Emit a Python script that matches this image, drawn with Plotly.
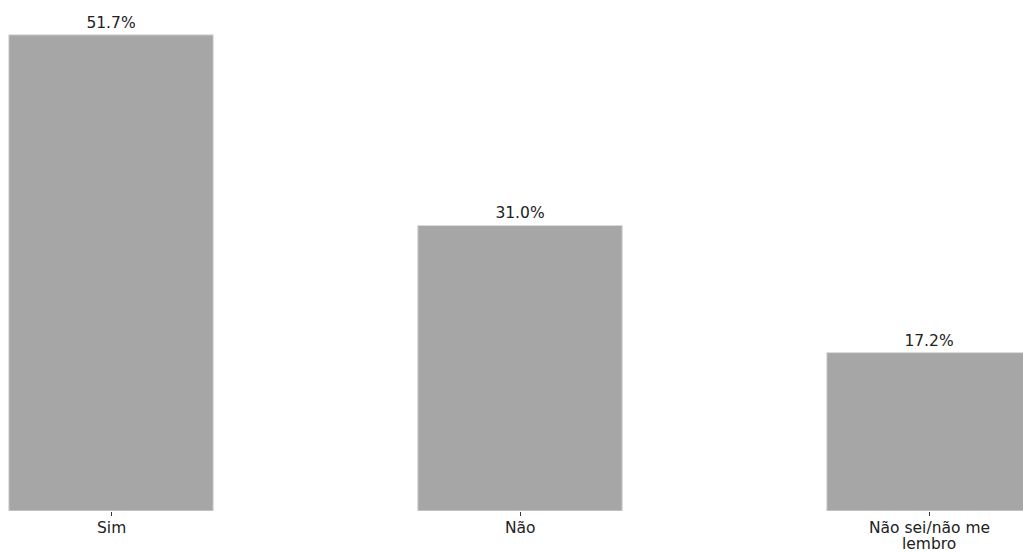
import plotly.graph_objects as go

categories = ["Sim", "Não", "Não sei/não me<br>lembro"]
values = [51.7, 31.0, 17.2]
labels = ["51.7%", "31.0%", "17.2%"]

FONT = "DejaVu Sans"
fig = go.Figure(go.Bar(
    x=list(range(len(categories))),
    y=values,
    text=labels,
    textposition="outside",
    cliponaxis=False,
    width=0.5,
    marker=dict(color="#a6a6a6", line=dict(color="#dcdcdc", width=1)),
    textfont=dict(family=FONT, size=15.5, color="#222222"),
))

# category labels as annotations (tight line spacing like the reference)
for i, cat in enumerate(categories):
    for j, line in enumerate(cat.split("<br>")):
        fig.add_annotation(
            x=i, y=0, xref="x", yref="paper",
            text=line, showarrow=False,
            xanchor="center", yanchor="top",
            yshift=-6 - 16 * j,
            font=dict(family=FONT, size=15.5, color="#222222"),
        )

fig.update_layout(
    width=1023, height=552,
    margin=dict(l=0, r=0, t=0, b=41),
    paper_bgcolor="white", plot_bgcolor="white",
    showlegend=False,
    font=dict(family=FONT, size=15.5, color="#222222"),
)
fig.update_xaxes(
    range=[-0.2714, 2.2298],
    tickmode="array", tickvals=list(range(len(categories))),
    showticklabels=False,
    ticks="outside", ticklen=4, tickcolor="#333333", tickwidth=1,
    showgrid=False, zeroline=False, showline=False, automargin=False,
)
fig.update_yaxes(range=[0, 55.48], visible=False, showgrid=False)

fig.write_html("out.html", config={"displayModeBar": False})
with open("out.html", "r", encoding="utf-8") as f:
    html = f.read()
html = html.replace("<head>", "<head><style>html,body{margin:0;padding:0;overflow:hidden;}</style>", 1)
with open("out.html", "w", encoding="utf-8") as f:
    f.write(html)
